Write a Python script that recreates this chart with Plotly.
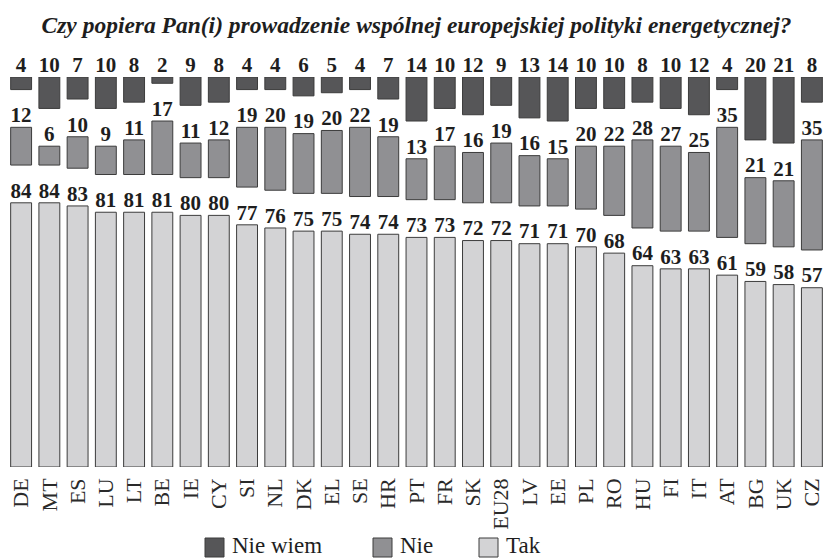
import plotly.graph_objects as go

kraje = ['DE', 'MT', 'ES', 'LU', 'LT', 'BE', 'IE', 'CY', 'SI', 'NL', 'DK', 'EL', 'SE', 'HR', 'PT',
         'FR', 'SK', 'EU28', 'LV', 'EE', 'PL', 'RO', 'HU', 'FI', 'IT', 'AT', 'BG', 'UK', 'CZ']
tak = [84, 84, 83, 81, 81, 81, 80, 80, 77, 76, 75, 75, 74, 74, 73,
       73, 72, 72, 71, 71, 70, 68, 64, 63, 63, 61, 59, 58, 57]
nie = [12, 6, 10, 9, 11, 17, 11, 12, 19, 20, 19, 20, 22, 19, 13,
       17, 16, 19, 16, 15, 20, 22, 28, 27, 25, 35, 21, 21, 35]
nie_wiem = [4, 10, 7, 10, 8, 2, 9, 8, 4, 4, 6, 5, 4, 7, 14,
            10, 12, 9, 13, 14, 10, 10, 8, 10, 12, 4, 20, 21, 8]

tytul = 'Czy popiera Pan(i) prowadzenie wspólnej europejskiej polityki energetycznej?'

# przerwa miedzy segmentami (w punktach procentowych) na etykiety
GAP = 12
C_NW = '#565658'
C_NIE = '#909093'
C_TAK = '#d3d3d5'
LINIA = dict(color='#3c3c3c', width=1)
SERIF = 'Liberation Serif'

base_nie = [t + GAP for t in tak]
base_nw = [t + n + 2 * GAP for t, n in zip(tak, nie)]

fig = go.Figure()
fig.add_trace(go.Bar(x=kraje, y=tak, base=0, marker=dict(color=C_TAK, line=LINIA), width=0.74))
fig.add_trace(go.Bar(x=kraje, y=nie, base=base_nie, marker=dict(color=C_NIE, line=LINIA), width=0.74))
fig.add_trace(go.Bar(x=kraje, y=nie_wiem, base=base_nw, marker=dict(color=C_NW, line=LINIA), width=0.74))

etykiety = [
    (tak, tak),
    ([b + n for b, n in zip(base_nie, nie)], nie),
    ([b + n for b, n in zip(base_nw, nie_wiem)], nie_wiem),
]
for ys, vals in etykiety:
    fig.add_trace(go.Scatter(
        x=kraje, y=ys, mode='text', text=[str(v) for v in vals],
        textposition='top center', cliponaxis=False,
        textfont=dict(family=SERIF, size=21, color='#1e1e1e', weight='bold'),
    ))

# legenda rysowana recznie (wieksze kwadraty niz w plotly)
W, H, L, B = 826, 558, 7, 91
PW, PH = W - L, H - 77 - B


def px_x(p):
    return (p - L) / PW


def px_y(p):
    return (H - B - p) / PH


legenda = [('Nie wiem', C_NW, 205), ('Nie', C_NIE, 373), ('Tak', C_TAK, 479)]
for nazwa, kolor, x0 in legenda:
    fig.add_shape(type='rect', xref='paper', yref='paper',
                  x0=px_x(x0), x1=px_x(x0 + 19), y0=px_y(538), y1=px_y(557),
                  fillcolor=kolor, line=dict(color='#3c3c3c', width=1))
    fig.add_annotation(xref='paper', yref='paper', x=px_x(x0 + 25), y=px_y(545),
                       xanchor='left', yanchor='middle', text=nazwa, showarrow=False,
                       font=dict(family=SERIF, size=23, color='#1e1e1e'))

fig.update_layout(
    width=W, height=H,
    margin=dict(l=L, r=0, t=77, b=B),
    paper_bgcolor='white', plot_bgcolor='white',
    barmode='overlay', showlegend=False,
    title=dict(text=tytul, x=0.5, xref='paper', y=0.955, yanchor='middle',
               font=dict(family=SERIF, size=23.5, color='#1e1e1e', weight='bold', style='italic')),
    xaxis=dict(tickangle=-90, showgrid=False, showline=False, ticks='',
               tickmode='array', tickvals=kraje, ticktext=kraje,
               tickfont=dict(family=SERIF, size=22, color='#2a2a2a'), ticklabelstandoff=6,
               range=[-0.5, len(kraje) - 0.5]),
    yaxis=dict(range=[0, 100 + 2 * GAP], visible=False),
)

fig.write_html('out.html', config={'displayModeBar': False},
               post_script="document.body.style.margin='0';document.body.style.overflow='hidden';")
